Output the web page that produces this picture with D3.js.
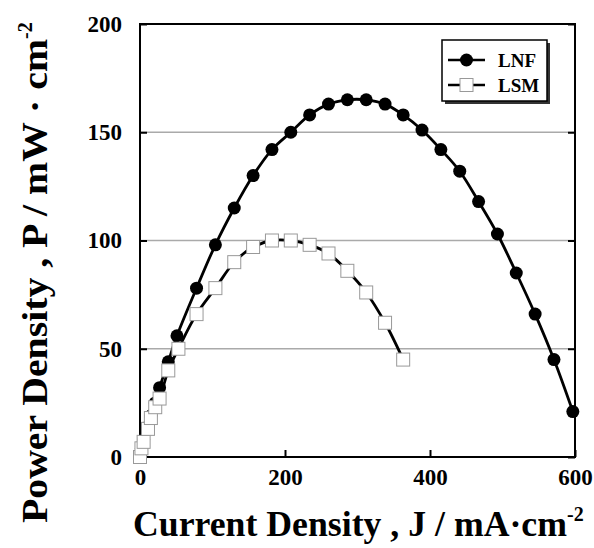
<!DOCTYPE html>
<html>
<head>
<meta charset="utf-8">
<script src="https://cdn.jsdelivr.net/npm/d3@7"></script>
<style>
  body { margin: 0; background: #fff; }
  text { font-family: "Liberation Serif", "Times New Roman", serif; font-weight: bold; }
</style>
</head>
<body>
<script>
// data
var lnfJ = [0, 2, 5, 11, 15, 21, 27, 39, 51, 78, 104, 130, 156, 182, 208, 234, 260, 286, 312, 338, 363, 389, 415, 441, 467, 493, 519, 545, 571, 597];
var lnfP = [0, 4, 8, 14, 19, 25, 32, 44, 56, 78, 98, 115, 130, 142, 150, 158, 163, 165, 165, 163, 158, 151, 142, 132, 118, 103, 85, 66, 45, 21];
var lsmJ = [0, 2, 5, 11, 15, 21, 27, 39, 53, 78, 104, 130, 156, 182, 208, 234, 260, 286, 312, 338, 363];
var lsmP = [0, 4, 7, 13, 18, 23, 27, 40, 50, 66, 78, 90, 97, 100, 100, 98, 94, 86, 76, 62, 45];
var xTicks = [0, 200, 400, 600];
var yTicks = [0, 50, 100, 150, 200];
var gridVals = [50, 100, 150];

var margin = {top: 24, right: 19, bottom: 91, left: 140};
var width = 594 - margin.left - margin.right;
var height = 548 - margin.top - margin.bottom;

var svg = d3.select("body").append("svg")
    .attr("width", 594)
    .attr("height", 548);

var g = svg.append("g")
    .attr("transform", "translate(" + margin.left + "," + margin.top + ")");

var x = d3.scaleLinear().domain([0, 600]).range([0, width]);
var y = d3.scaleLinear().domain([0, 200]).range([height, 0]);

// grid lines
g.selectAll(".grid").data(gridVals).enter().append("line")
    .attr("x1", 0).attr("x2", width)
    .attr("y1", d => y(d)).attr("y2", d => y(d))
    .attr("stroke", "#aaa").attr("stroke-width", 1.5);

// frame
g.append("rect")
    .attr("width", width).attr("height", height)
    .attr("fill", "none").attr("stroke", "#000").attr("stroke-width", 2);

// inward ticks
var xAxis = d3.axisBottom(x).tickValues(xTicks).tickSize(-7).tickPadding(12).tickFormat(d3.format("d"));
var yAxis = d3.axisLeft(y).tickValues(yTicks).tickSize(-7).tickPadding(18).tickFormat(d3.format("d"));
var yAxisR = d3.axisRight(y).tickValues(yTicks).tickSize(-7).tickFormat("");

function styleAxis(sel) {
    sel.select(".domain").remove();
    sel.selectAll(".tick line").attr("stroke", "#000").attr("stroke-width", 2);
    sel.selectAll(".tick text").attr("font-size", "23px").attr("fill", "#000")
        .style("font-family", "'Liberation Serif', serif").style("font-weight", "bold");
}

g.append("g").attr("transform", "translate(0," + height + ")").call(xAxis).call(styleAxis);
g.append("g").call(yAxis).call(styleAxis);
g.append("g").attr("transform", "translate(" + width + ",0)").call(yAxisR).call(styleAxis);

var lnf = lnfJ.map((d, i) => ({j: d, p: lnfP[i]}));
var lsm = lsmJ.map((d, i) => ({j: d, p: lsmP[i]}));

var line = d3.line()
    .x(d => x(d.j))
    .y(d => y(d.p))
    .curve(d3.curveCatmullRom);

g.append("path").datum(lnf)
    .attr("d", line).attr("fill", "none").attr("stroke", "#000").attr("stroke-width", 2.8);

g.append("path").datum(lsm)
    .attr("d", line).attr("fill", "none").attr("stroke", "#000").attr("stroke-width", 2.8);

g.selectAll(".lnf").data(lnf).enter().append("circle")
    .attr("cx", d => x(d.j)).attr("cy", d => y(d.p))
    .attr("r", 6.5).attr("fill", "#000");

var sq = 13;
g.selectAll(".lsm").data(lsm).enter().append("rect")
    .attr("x", d => x(d.j) - sq / 2).attr("y", d => y(d.p) - sq / 2)
    .attr("width", sq).attr("height", sq)
    .attr("fill", "#fff").attr("stroke", "#999").attr("stroke-width", 1);

// legend
var legend = svg.append("g").attr("transform", "translate(442,40)");
legend.append("rect").attr("x", 3).attr("y", 3).attr("width", 105).attr("height", 61).attr("fill", "#333");
legend.append("rect").attr("width", 105).attr("height", 61)
    .attr("fill", "#fff").attr("stroke", "#000").attr("stroke-width", 1.5);

legend.append("line").attr("x1", 6).attr("x2", 43).attr("y1", 20).attr("y2", 20)
    .attr("stroke", "#000").attr("stroke-width", 2.5);
legend.append("circle").attr("cx", 24.5).attr("cy", 20).attr("r", 6.5).attr("fill", "#000");
legend.append("text").attr("x", 56).attr("y", 27).attr("font-size", "19px").text("LNF");

legend.append("line").attr("x1", 6).attr("x2", 43).attr("y1", 45).attr("y2", 45)
    .attr("stroke", "#000").attr("stroke-width", 2.5);
legend.append("rect").attr("x", 24.5 - sq / 2).attr("y", 45 - sq / 2).attr("width", sq).attr("height", sq)
    .attr("fill", "#fff").attr("stroke", "#999");
legend.append("text").attr("x", 56).attr("y", 52).attr("font-size", "19px").text("LSM");

// axis titles
var xt = svg.append("text")
    .attr("x", 133).attr("y", 536)
    .attr("font-size", "35px");
xt.append("tspan").attr("textLength", 434).attr("lengthAdjust", "spacingAndGlyphs")
    .text("Current Density , J / mA\u00b7cm");
xt.append("tspan").attr("font-size", "20px").attr("dy", -15).text("-2");

var yt = svg.append("text")
    .attr("transform", "translate(47,523) rotate(-90)")
    .attr("font-size", "35px");
yt.append("tspan").attr("textLength", 484).attr("lengthAdjust", "spacingAndGlyphs")
    .text("Power Density , P / mW \u00b7 cm");
yt.append("tspan").attr("font-size", "20px").attr("dy", -15).text("-2");
</script>
</body>
</html>
